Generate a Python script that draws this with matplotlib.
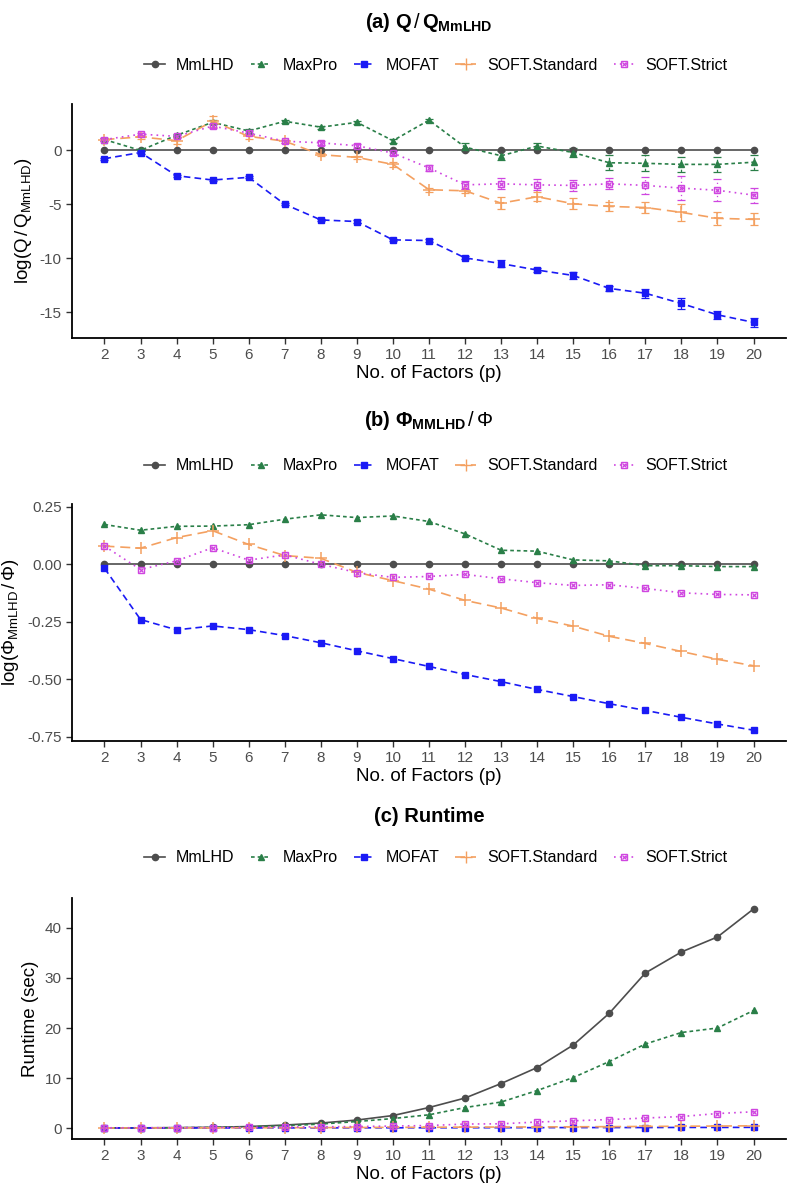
import matplotlib
matplotlib.use("Agg")
import matplotlib.pyplot as plt
from matplotlib.lines import Line2D
import numpy as np

plt.rcParams['font.family'] = ['Liberation Sans', 'DejaVu Sans']
plt.rcParams['mathtext.fontset'] = 'custom'
plt.rcParams['mathtext.rm'] = 'Liberation Sans'
plt.rcParams['mathtext.it'] = 'Liberation Sans:italic'
plt.rcParams['mathtext.bf'] = 'Liberation Sans:bold'

p = list(range(2, 21))
methods = ["MmLHD", "MaxPro", "MOFAT", "SOFT.Standard", "SOFT.Strict"]

# Panel (a): log(Q/Q_MmLHD)
qa_mmlhd = [0.0] * 19
qa_maxpro = [1.0, 0.0, 1.4, 2.6, 1.8, 2.7, 2.15, 2.6, 0.9, 2.8, 0.3, -0.5, 0.4, -0.2, -1.15, -1.2, -1.3, -1.3, -1.1]
qa_mofat = [-0.77, -0.2, -2.35, -2.75, -2.5, -5.0, -6.45, -6.6, -8.3, -8.36, -9.97, -10.5, -11.1, -11.6, -12.8, -13.25, -14.2, -15.25, -15.95]
qa_std = [1.0, 1.25, 0.9, 2.7, 1.3, 0.85, -0.4, -0.65, -1.3, -3.65, -3.75, -4.9, -4.3, -4.95, -5.2, -5.3, -5.75, -6.3, -6.4]
qa_strict = [1.0, 1.5, 1.3, 2.25, 1.6, 0.85, 0.7, 0.43, -0.25, -1.63, -3.2, -3.1, -3.2, -3.25, -3.1, -3.25, -3.5, -3.7, -4.15]
ea_mmlhd = [0.0] * 19
ea_maxpro = [0.15, 0.1, 0.15, 0.2, 0.15, 0.15, 0.15, 0.15, 0.2, 0.15, 0.35, 0.4, 0.3, 0.4, 0.7, 0.75, 0.7, 0.7, 0.7]
ea_mofat = [0.1, 0.1, 0.1, 0.1, 0.1, 0.1, 0.1, 0.1, 0.1, 0.1, 0.15, 0.3, 0.2, 0.3, 0.25, 0.4, 0.5, 0.4, 0.45]
ea_std = [0.15, 0.2, 0.3, 0.5, 0.2, 0.15, 0.15, 0.15, 0.2, 0.2, 0.2, 0.55, 0.4, 0.5, 0.4, 0.55, 0.8, 0.6, 0.55]
ea_strict = [0.15, 0.15, 0.15, 0.2, 0.2, 0.15, 0.2, 0.2, 0.2, 0.25, 0.4, 0.5, 0.5, 0.5, 0.5, 0.75, 1.1, 1.0, 0.7]

# Panel (b): log(Phi_MmLHD/Phi)
pb_mmlhd = [0.0] * 19
pb_maxpro = [0.173, 0.148, 0.165, 0.166, 0.172, 0.196, 0.215, 0.203, 0.21, 0.186, 0.132, 0.061, 0.057, 0.019, 0.015, -0.006, -0.006, -0.01, -0.01]
pb_mofat = [-0.017, -0.240, -0.285, -0.268, -0.284, -0.310, -0.341, -0.376, -0.410, -0.444, -0.479, -0.510, -0.544, -0.575, -0.606, -0.635, -0.665, -0.694, -0.721]
pb_std = [0.079, 0.070, 0.116, 0.146, 0.086, 0.038, 0.026, -0.035, -0.071, -0.108, -0.157, -0.190, -0.235, -0.269, -0.313, -0.344, -0.379, -0.413, -0.441]
pb_strict = [0.079, -0.023, 0.015, 0.072, 0.018, 0.041, 0.0, -0.036, -0.057, -0.053, -0.044, -0.063, -0.080, -0.092, -0.089, -0.105, -0.124, -0.131, -0.133]

# Panel (c): Runtime (sec)
rc_mmlhd = [0.02, 0.04, 0.08, 0.15, 0.3, 0.6, 1.0, 1.6, 2.5, 4.1, 6.0, 8.9, 12.1, 16.6, 22.95, 31.0, 35.2, 38.2, 43.8]
rc_maxpro = [0.02, 0.03, 0.06, 0.12, 0.25, 0.45, 0.8, 1.3, 1.9, 2.65, 4.1, 5.2, 7.5, 10.1, 13.3, 16.8, 19.1, 20.0, 23.5]
rc_mofat = [0.01, 0.01, 0.01, 0.02, 0.02, 0.03, 0.03, 0.04, 0.05, 0.05, 0.06, 0.07, 0.08, 0.09, 0.1, 0.1, 0.12, 0.12, 0.14]
rc_std = [0.02, 0.02, 0.03, 0.04, 0.05, 0.07, 0.09, 0.11, 0.13, 0.15, 0.18, 0.2, 0.22, 0.25, 0.28, 0.32, 0.36, 0.4, 0.45]
rc_strict = [0.05, 0.05, 0.08, 0.1, 0.15, 0.2, 0.25, 0.3, 0.4, 0.5, 0.8, 0.85, 1.2, 1.45, 1.7, 2.0, 2.3, 2.9, 3.25]

colors = {"MmLHD": "#4D4D4D", "MaxPro": "#2A7F48", "MOFAT": "#1A1AF5",
          "SOFT.Standard": "#F4A060", "SOFT.Strict": "#CF45E0"}
lstyles = {"MmLHD": "-", "MaxPro": (0, (2.2, 1.8)), "MOFAT": (0, (4, 2.5)),
           "SOFT.Standard": (0, (6, 3.5)), "SOFT.Strict": (0, (1, 2.5))}
markers = {"MmLHD": "o", "MaxPro": "^", "MOFAT": "s", "SOFT.Standard": "+", "SOFT.Strict": "s"}

W, H = 794, 1194
fig = plt.figure(figsize=(W / 100, H / 100), dpi=100)
L, R = 72, 786
grey = "#4D4D4D"


def make_ax(top, bottom):
    ax = fig.add_axes([L / W, 1 - bottom / H, (R - L) / W, (bottom - top) / H])
    for s in ["top", "right"]:
        ax.spines[s].set_visible(False)
    for s in ["left", "bottom"]:
        ax.spines[s].set_linewidth(1.3)
        ax.spines[s].set_color("black")
    ax.set_xticks(p)
    ax.set_xlim(2 - 0.9, 20 + 0.9)
    ax.tick_params(axis="both", colors=grey, labelsize=11, length=4, width=1.0, labelcolor=grey)
    ax.tick_params(axis="both", color="#333333")
    ax.set_xlabel("No. of Factors (p)", fontsize=13.5, color="black", labelpad=2)
    return ax


def draw_series(ax, name, y, err=None):
    c = colors[name]
    ls = lstyles[name]
    m = markers[name]
    lw = 1.2
    if name == "SOFT.Strict":
        mfc = "none"
        ms = 5
    elif name == "SOFT.Standard":
        mfc = c
        ms = 8
    else:
        mfc = c
        ms = 4.5 if name != "MaxPro" else 5
    if err is not None and any(e > 0 for e in err):
        eb = ax.errorbar(p, y, yerr=err, fmt="none", ecolor=c, elinewidth=0.9, capsize=3, capthick=0.9, zorder=2)
        for lc in eb[2]:
            lc.set_linestyle(ls)
    ax.plot(p, y, color=c, linestyle=ls, linewidth=lw, marker=m, markersize=ms,
            markerfacecolor=mfc, markeredgecolor=c, markeredgewidth=1.0 if name != "SOFT.Standard" else 1.1, zorder=3)
    if name == "SOFT.Strict":
        ax.plot(p, y, linestyle="none", marker="x", markersize=3.5, color=c, markeredgewidth=0.9, zorder=3)


def legend_at(ypx):
    handles = []
    for n in methods:
        c = colors[n]
        if n == "SOFT.Strict":
            h = (Line2D([], [], color=c, linestyle=lstyles[n], linewidth=1.2, marker="s", markersize=5,
                        markerfacecolor="none", markeredgecolor=c),
                 Line2D([], [], linestyle="none", marker="x", markersize=3.5, color=c, markeredgewidth=0.9))
        else:
            h = Line2D([], [], color=c, linestyle=lstyles[n], linewidth=1.2, marker=markers[n],
                       markersize=8 if n == "SOFT.Standard" else 4.5, markerfacecolor=c, markeredgecolor=c)
        handles.append(h)
    fig.legend(handles, methods, loc="center", bbox_to_anchor=(436 / W, 1 - ypx / H), ncol=5,
               frameon=False, fontsize=11.5, handlelength=1.3, handletextpad=0.7, columnspacing=1.0,
               borderaxespad=0)


cx = (L + R) / 2 / W

# Panel (a)
ax1 = make_ax(104, 338)
for n, y, e in zip(methods, [qa_mmlhd, qa_maxpro, qa_mofat, qa_std, qa_strict],
                   [ea_mmlhd, ea_maxpro, ea_mofat, ea_std, ea_strict]):
    draw_series(ax1, n, y, e)
ax1.set_ylim(-17.4, 4.3)
ax1.set_yticks([0, -5, -10, -15])
ax1.set_yticklabels(["0", "-5", "-10", "-15"])
ax1.set_ylabel(r"$\mathrm{log}(\mathrm{Q}\,/\,\mathrm{Q}_{\mathrm{MmLHD}})$", fontsize=13.5, labelpad=4)
fig.text(cx, 1 - 22 / H, r"(a) $\mathbf{Q}\,/\,\mathbf{Q}_{\mathbf{MmLHD}}$", ha="center", va="center",
         fontsize=14.5, fontweight="bold")
legend_at(65)

# Panel (b)
ax2 = make_ax(504, 741)
for n, y in zip(methods, [pb_mmlhd, pb_maxpro, pb_mofat, pb_std, pb_strict]):
    draw_series(ax2, n, y)
ax2.set_ylim(-0.768, 0.262)
ax2.set_yticks([0.25, 0.0, -0.25, -0.5, -0.75])
ax2.set_yticklabels(["0.25", "0.00", "-0.25", "-0.50", "-0.75"])
ax2.set_ylabel(r"$\mathrm{log}(\Phi_{\mathrm{MmLHD}}\,/\,\Phi)$", fontsize=13.5, labelpad=4)
fig.text(cx, 1 - 420 / H, r"(b) $\mathbf{\Phi_{MMLHD}}\,/\,\Phi$", ha="center", va="center",
         fontsize=14.5, fontweight="bold")
legend_at(466)

# Panel (c)
ax3 = make_ax(898, 1139)
for n, y in zip(methods, [rc_mmlhd, rc_maxpro, rc_mofat, rc_std, rc_strict]):
    draw_series(ax3, n, y)
ax3.set_ylim(-2.19, 45.99)
ax3.set_yticks([0, 10, 20, 30, 40])
ax3.set_ylabel("Runtime (sec)", fontsize=13.5, labelpad=4)
fig.text(cx, 1 - 816 / H, "(c) Runtime", ha="center", va="center", fontsize=14.5, fontweight="bold")
legend_at(858)

fig.savefig("out.png", dpi=100)
